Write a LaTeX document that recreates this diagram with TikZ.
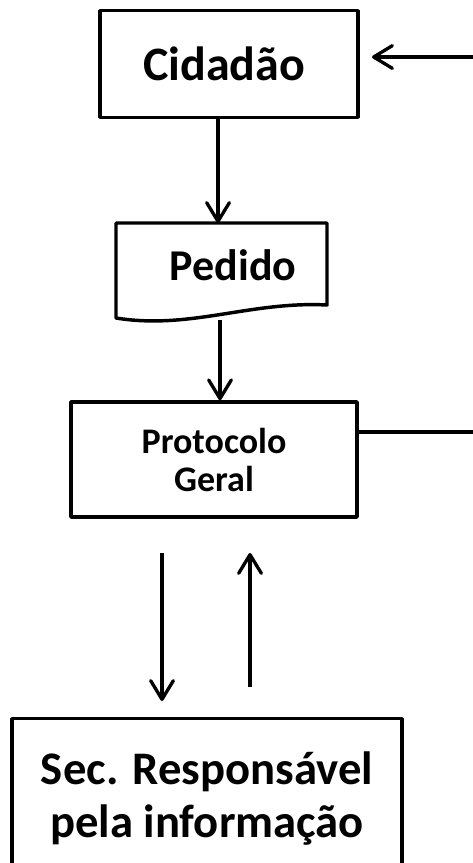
\documentclass[tikz,border=0pt]{standalone}
\usepackage{fontspec}
\setmainfont{Carlito}
\usetikzlibrary{arrows.meta}
\begin{document}
\begin{tikzpicture}[x=0.75pt,y=-0.75pt,
  box/.style={draw,line width=2.6pt,line join=round,rectangle,inner sep=0pt,align=center},
  big/.style={font=\fontsize{35}{40}\selectfont\bfseries},
  small/.style={font=\fontsize{27}{28.5}\selectfont\bfseries},
  conn/.style={line width=2.5pt,-{Straight Barb[length=14pt,width=17pt,line cap=round,line join=round]}},
  plain/.style={line width=2.6pt}]
\useasboundingbox (0,0) rectangle (473,863);
\clip (0,0) rectangle (473,863);
% Cidadao
\node[box,minimum width=193.5pt,minimum height=80pt] (cid) at (229,64) {};
\node[font=\fontsize{36}{40}\selectfont\bfseries] (cidt) at (224,64) {Cidad\~ao};
% Pedido (document shape)
\draw[plain,line join=round] (116,223) -- (327,223) -- (327,305)
  .. controls (250,301) and (190,330) .. (116,318) -- cycle;
\node[font=\fontsize{33}{40}\selectfont\bfseries] (ped) at (233,265) {Pedido};
\coordinate (pedtop) at (218,223);
\coordinate (pedbot) at (220,320);
% Protocolo
\node[box,small,minimum width=214.5pt,minimum height=86.25pt] (prot) at (214,459.5) {Protocolo\\Geral};
% Sec
\node[box,big,minimum width=292.5pt,minimum height=120pt,anchor=north] (sec) at (207,717) {Sec. Respons\'avel\\pela informa\c{c}\~ao};
% connectors
\coordinate (inR) at (473,57);
\coordinate (cidR) at (372,57);
\draw[conn] (inR) -- (cidR);
\draw[conn] (cid.south -| pedtop) -- (pedtop);
\draw[conn] (pedbot) -- (prot.north -| pedbot);
\coordinate (protR) at (prot.east |- 0,432);
\coordinate (outR) at (473,432);
\draw[plain] (protR) -- (outR);
\coordinate (d1) at (162,553);
\coordinate (d2) at (162,701);
\coordinate (u1) at (250,687);
\coordinate (u2) at (250,553);
\draw[conn] (d1) -- (d2);
\draw[conn] (u1) -- (u2);
\end{tikzpicture}
\end{document}
